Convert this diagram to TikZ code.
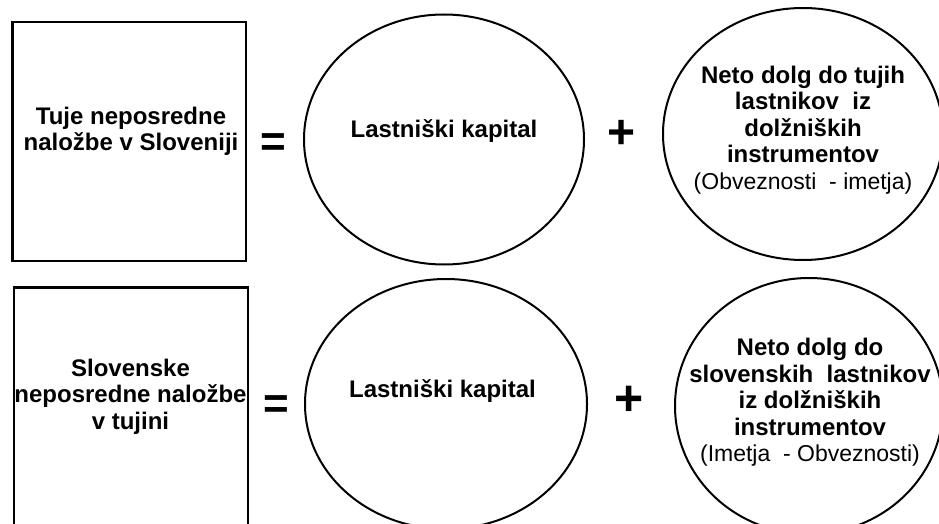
\documentclass[tikz,border=0pt]{standalone}
\usepackage{fontspec}
\setmainfont{Liberation Sans}
\usetikzlibrary{shapes.geometric}
\tikzset{
  frame/.style={draw=black, line width=2.4pt, rectangle, inner sep=0pt, outer sep=0pt},
  oval/.style={draw=black, line width=2pt, ellipse, inner sep=0pt, outer sep=0pt},
  lbl/.style={font=\fontsize{24}{26.5}\selectfont\bfseries, align=center, inner sep=0pt, anchor=base},
  sign/.style={inner sep=0pt, anchor=base},
}
\newcommand{\regtxt}[1]{{\fontsize{23}{26.5}\selectfont\mdseries #1}}
\begin{document}
\begin{tikzpicture}[x=1pt,y=-1pt]
\useasboundingbox (0,0) rectangle (939,524);
\clip (0,0) rectangle (939,524);
% boxes
\node[frame, minimum width=233.4pt, minimum height=239pt] (box1) at (129,141.5) {};
\node[frame, minimum width=234pt, minimum height=272.7pt] (box2) at (131,423.65) {};
% ellipses
\node[oval, minimum width=280pt, minimum height=250pt] (eq1) at (444,139.5) {};
\node[oval, minimum width=282pt, minimum height=250pt] (eq2) at (446,404) {};
\node[oval, minimum width=280pt, minimum height=252pt] (debt1) at (803,134) {};
\node[oval, minimum width=268pt, minimum height=256pt] (debt2) at (809,406) {};
% labels (base anchor = baseline of last line)
\node[lbl] (t1) at (131,150.5) {Tuje neposredne\\naložbe v Sloveniji};
\node[lbl] (t2) at (130.5,429) {Slovenske\\neposredne naložbe\\v tujini};
\node[lbl] (k1) at (444,137.5) {Lastniški kapital};
\node[lbl] (k2) at (442.5,397.5) {Lastniški kapital};
\node[lbl] (d1) at (803,189) {Neto dolg do tujih\\lastnikov\ \ iz\\dolžniških\\instrumentov\\\regtxt{(Obveznosti\ \ - imetja)}};
\node[lbl] (d2) at (810,461.5) {Neto dolg do\\slovenskih\ \ lastnikov\\iz dolžniških\\instrumentov\\\regtxt{(Imetja\ \ - Obveznosti)}};
% signs
\node[sign, font=\fontsize{44}{44}\selectfont\bfseries] (eqs1) at (273,156.4) {=};
\node[sign, font=\fontsize{44}{44}\selectfont\bfseries] (eqs2) at (276.5,418.4) {=};
\node[sign, font=\fontsize{48}{48}\selectfont\bfseries] (pl1) at (622,148.5) {+};
\node[sign, font=\fontsize{50}{50}\selectfont\bfseries] (pl2) at (629.5,415.7) {+};
\end{tikzpicture}
\end{document}
